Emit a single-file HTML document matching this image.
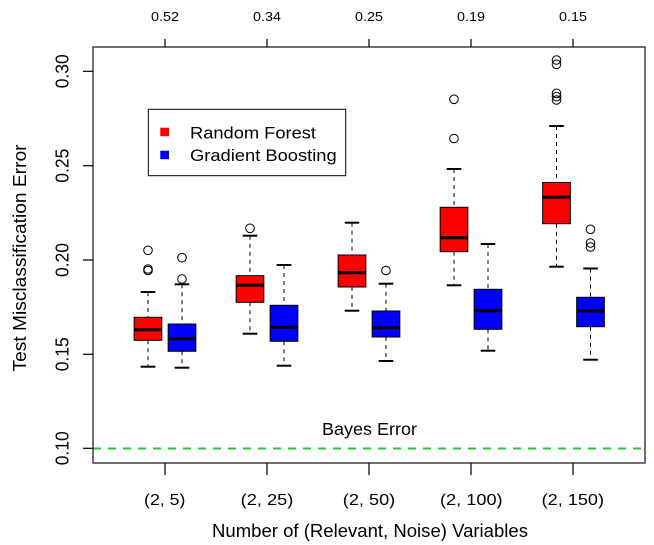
<!DOCTYPE html>
<html>
<head>
<meta charset="utf-8">
<style>
  html, body { margin: 0; padding: 0; background: #ffffff; }
  svg { display: block; }
  text { font-family: "Liberation Sans", Arial, Helvetica, sans-serif; fill: #000; }
</style>
</head>
<body>
<svg width="654" height="545" viewBox="0 0 654 545" xmlns="http://www.w3.org/2000/svg">
  <rect x="0" y="0" width="654" height="545" fill="#ffffff"/>

  <!-- Bayes error line -->
  <line x1="93" y1="448.5" x2="645" y2="448.5" stroke="#22cc22" stroke-width="2" stroke-dasharray="8 7"/>
  <text x="369.5" y="435" font-size="17.5" text-anchor="middle" textLength="95" lengthAdjust="spacingAndGlyphs">Bayes Error</text>

  <!-- Boxes -->
  <g stroke="#000" fill="none">
    <!-- Group 1 red -->
    <g>
      <line x1="148" y1="292" x2="148" y2="317.3" stroke-width="1" stroke-dasharray="4 4"/>
      <line x1="148" y1="340.3" x2="148" y2="366.7" stroke-width="1" stroke-dasharray="4 4"/>
      <line x1="140.7" y1="292" x2="155.3" y2="292" stroke-width="2"/>
      <line x1="140.7" y1="366.7" x2="155.3" y2="366.7" stroke-width="2"/>
      <rect x="134.15" y="317.3" width="27.7" height="23" fill="#ff0000" stroke-width="1"/>
      <line x1="134.15" y1="329.7" x2="161.85" y2="329.7" stroke-width="3"/>
      <circle cx="148" cy="250.3" r="4.3" stroke-width="1"/>
      <circle cx="148" cy="269" r="4.3" stroke-width="1"/>
      <circle cx="148" cy="270.5" r="4.3" stroke-width="1"/>
    </g>
    <!-- Group 1 blue -->
    <g>
      <line x1="182" y1="284.3" x2="182" y2="324" stroke-width="1" stroke-dasharray="4 4"/>
      <line x1="182" y1="351.3" x2="182" y2="367.7" stroke-width="1" stroke-dasharray="4 4"/>
      <line x1="174.7" y1="284.3" x2="189.3" y2="284.3" stroke-width="2"/>
      <line x1="174.7" y1="367.7" x2="189.3" y2="367.7" stroke-width="2"/>
      <rect x="168.15" y="324" width="27.7" height="27.3" fill="#0000ff" stroke-width="1"/>
      <line x1="168.15" y1="338.7" x2="195.85" y2="338.7" stroke-width="3"/>
      <circle cx="182" cy="257.7" r="4.3" stroke-width="1"/>
      <circle cx="182" cy="279" r="4.3" stroke-width="1"/>
    </g>
    <!-- Group 2 red -->
    <g>
      <line x1="250" y1="235.7" x2="250" y2="275.7" stroke-width="1" stroke-dasharray="4 4"/>
      <line x1="250" y1="302.3" x2="250" y2="333.7" stroke-width="1" stroke-dasharray="4 4"/>
      <line x1="242.7" y1="235.7" x2="257.3" y2="235.7" stroke-width="2"/>
      <line x1="242.7" y1="333.7" x2="257.3" y2="333.7" stroke-width="2"/>
      <rect x="236.15" y="275.7" width="27.7" height="26.6" fill="#ff0000" stroke-width="1"/>
      <line x1="236.15" y1="285.3" x2="263.85" y2="285.3" stroke-width="3"/>
      <circle cx="250" cy="228.3" r="4.3" stroke-width="1"/>
    </g>
    <!-- Group 2 blue -->
    <g>
      <line x1="284" y1="265" x2="284" y2="305.3" stroke-width="1" stroke-dasharray="4 4"/>
      <line x1="284" y1="341.3" x2="284" y2="365.7" stroke-width="1" stroke-dasharray="4 4"/>
      <line x1="276.7" y1="265" x2="291.3" y2="265" stroke-width="2"/>
      <line x1="276.7" y1="365.7" x2="291.3" y2="365.7" stroke-width="2"/>
      <rect x="270.15" y="305.3" width="27.7" height="36" fill="#0000ff" stroke-width="1"/>
      <line x1="270.15" y1="327.3" x2="297.85" y2="327.3" stroke-width="3"/>
    </g>
    <!-- Group 3 red -->
    <g>
      <line x1="352" y1="222.7" x2="352" y2="255" stroke-width="1" stroke-dasharray="4 4"/>
      <line x1="352" y1="287" x2="352" y2="310.7" stroke-width="1" stroke-dasharray="4 4"/>
      <line x1="344.7" y1="222.7" x2="359.3" y2="222.7" stroke-width="2"/>
      <line x1="344.7" y1="310.7" x2="359.3" y2="310.7" stroke-width="2"/>
      <rect x="338.15" y="255" width="27.7" height="32" fill="#ff0000" stroke-width="1"/>
      <line x1="338.15" y1="272.7" x2="365.85" y2="272.7" stroke-width="3"/>
    </g>
    <!-- Group 3 blue -->
    <g>
      <line x1="386" y1="283.7" x2="386" y2="311" stroke-width="1" stroke-dasharray="4 4"/>
      <line x1="386" y1="337" x2="386" y2="361" stroke-width="1" stroke-dasharray="4 4"/>
      <line x1="378.7" y1="283.7" x2="393.3" y2="283.7" stroke-width="2"/>
      <line x1="378.7" y1="361" x2="393.3" y2="361" stroke-width="2"/>
      <rect x="372.15" y="311" width="27.7" height="26" fill="#0000ff" stroke-width="1"/>
      <line x1="372.15" y1="327.7" x2="399.85" y2="327.7" stroke-width="3"/>
      <circle cx="386" cy="270.5" r="4.3" stroke-width="1"/>
    </g>
    <!-- Group 4 red -->
    <g>
      <line x1="454" y1="169" x2="454" y2="207.3" stroke-width="1" stroke-dasharray="4 4"/>
      <line x1="454" y1="251.7" x2="454" y2="285.3" stroke-width="1" stroke-dasharray="4 4"/>
      <line x1="446.7" y1="169" x2="461.3" y2="169" stroke-width="2"/>
      <line x1="446.7" y1="285.3" x2="461.3" y2="285.3" stroke-width="2"/>
      <rect x="440.15" y="207.3" width="27.7" height="44.4" fill="#ff0000" stroke-width="1"/>
      <line x1="440.15" y1="237.7" x2="467.85" y2="237.7" stroke-width="3"/>
      <circle cx="454" cy="99.3" r="4.3" stroke-width="1"/>
      <circle cx="454" cy="138.5" r="4.3" stroke-width="1"/>
    </g>
    <!-- Group 4 blue -->
    <g>
      <line x1="488" y1="244" x2="488" y2="289.3" stroke-width="1" stroke-dasharray="4 4"/>
      <line x1="488" y1="329.3" x2="488" y2="350.7" stroke-width="1" stroke-dasharray="4 4"/>
      <line x1="480.7" y1="244" x2="495.3" y2="244" stroke-width="2"/>
      <line x1="480.7" y1="350.7" x2="495.3" y2="350.7" stroke-width="2"/>
      <rect x="474.15" y="289.3" width="27.7" height="40" fill="#0000ff" stroke-width="1"/>
      <line x1="474.15" y1="310.7" x2="501.85" y2="310.7" stroke-width="3"/>
    </g>
    <!-- Group 5 red -->
    <g>
      <line x1="556.5" y1="126" x2="556.5" y2="182.5" stroke-width="1" stroke-dasharray="4 4"/>
      <line x1="556.5" y1="223.7" x2="556.5" y2="266.7" stroke-width="1" stroke-dasharray="4 4"/>
      <line x1="549.2" y1="126" x2="563.8" y2="126" stroke-width="2"/>
      <line x1="549.2" y1="266.7" x2="563.8" y2="266.7" stroke-width="2"/>
      <rect x="542.65" y="182.5" width="27.7" height="41.2" fill="#ff0000" stroke-width="1"/>
      <line x1="542.65" y1="197.3" x2="570.35" y2="197.3" stroke-width="3"/>
      <circle cx="556.5" cy="60" r="4.3" stroke-width="1"/>
      <circle cx="556.5" cy="64.3" r="4.3" stroke-width="1"/>
      <circle cx="556.5" cy="93.3" r="4.3" stroke-width="1"/>
      <circle cx="556.5" cy="96.7" r="4.3" stroke-width="1"/>
      <circle cx="556.5" cy="100" r="4.3" stroke-width="1"/>
    </g>
    <!-- Group 5 blue -->
    <g>
      <line x1="590.5" y1="268.5" x2="590.5" y2="297.3" stroke-width="1" stroke-dasharray="4 4"/>
      <line x1="590.5" y1="326.7" x2="590.5" y2="359.7" stroke-width="1" stroke-dasharray="4 4"/>
      <line x1="583.2" y1="268.5" x2="597.8" y2="268.5" stroke-width="2"/>
      <line x1="583.2" y1="359.7" x2="597.8" y2="359.7" stroke-width="2"/>
      <rect x="576.65" y="297.3" width="27.7" height="29.4" fill="#0000ff" stroke-width="1"/>
      <line x1="576.65" y1="311" x2="604.35" y2="311" stroke-width="3"/>
      <circle cx="590.5" cy="229.3" r="4.3" stroke-width="1"/>
      <circle cx="590.5" cy="243" r="4.3" stroke-width="1"/>
      <circle cx="590.5" cy="247" r="4.3" stroke-width="1"/>
    </g>
  </g>

  <!-- Plot border -->
  <rect x="93" y="47" width="552" height="416" fill="none" stroke="#333" stroke-width="1.4"/>

  <!-- Y axis ticks -->
  <g stroke="#000" stroke-width="1.2">
    <line x1="83" y1="448.3" x2="93" y2="448.3"/>
    <line x1="83" y1="354.3" x2="93" y2="354.3"/>
    <line x1="83" y1="260" x2="93" y2="260"/>
    <line x1="83" y1="165.7" x2="93" y2="165.7"/>
    <line x1="83" y1="71.3" x2="93" y2="71.3"/>
  </g>
  <g font-size="18" text-anchor="middle">
    <text transform="translate(68.3,448.3) rotate(-90)" textLength="34" lengthAdjust="spacingAndGlyphs">0.10</text>
    <text transform="translate(68.3,354.3) rotate(-90)" textLength="34" lengthAdjust="spacingAndGlyphs">0.15</text>
    <text transform="translate(68.3,260) rotate(-90)" textLength="34" lengthAdjust="spacingAndGlyphs">0.20</text>
    <text transform="translate(68.3,165.7) rotate(-90)" textLength="34" lengthAdjust="spacingAndGlyphs">0.25</text>
    <text transform="translate(68.3,71.3) rotate(-90)" textLength="34" lengthAdjust="spacingAndGlyphs">0.30</text>
  </g>
  <text transform="translate(26,258) rotate(-90)" font-size="18" text-anchor="middle" textLength="227" lengthAdjust="spacingAndGlyphs">Test Misclassification Error</text>

  <!-- Bottom axis ticks -->
  <g stroke="#000" stroke-width="1.2">
    <line x1="165" y1="463" x2="165" y2="475"/>
    <line x1="267" y1="463" x2="267" y2="475"/>
    <line x1="369" y1="463" x2="369" y2="475"/>
    <line x1="471" y1="463" x2="471" y2="475"/>
    <line x1="573" y1="463" x2="573" y2="475"/>
  </g>
  <g font-size="16" text-anchor="middle">
    <text x="164.7" y="505" textLength="41.3" lengthAdjust="spacingAndGlyphs">(2, 5)</text>
    <text x="267" y="505" textLength="52.6" lengthAdjust="spacingAndGlyphs">(2, 25)</text>
    <text x="369" y="505" textLength="52.4" lengthAdjust="spacingAndGlyphs">(2, 50)</text>
    <text x="471.3" y="505" textLength="62.6" lengthAdjust="spacingAndGlyphs">(2, 100)</text>
    <text x="572.8" y="505" textLength="62.4" lengthAdjust="spacingAndGlyphs">(2, 150)</text>
  </g>
  <text x="370" y="537" font-size="18" text-anchor="middle" textLength="316" lengthAdjust="spacingAndGlyphs">Number of (Relevant, Noise) Variables</text>

  <!-- Top axis ticks -->
  <g stroke="#000" stroke-width="1.2">
    <line x1="165" y1="39" x2="165" y2="47"/>
    <line x1="267" y1="39" x2="267" y2="47"/>
    <line x1="369" y1="39" x2="369" y2="47"/>
    <line x1="471" y1="39" x2="471" y2="47"/>
    <line x1="573" y1="39" x2="573" y2="47"/>
  </g>
  <g font-size="13" text-anchor="middle">
    <text x="165" y="21" textLength="28" lengthAdjust="spacingAndGlyphs">0.52</text>
    <text x="267" y="21" textLength="28" lengthAdjust="spacingAndGlyphs">0.34</text>
    <text x="369" y="21" textLength="28" lengthAdjust="spacingAndGlyphs">0.25</text>
    <text x="471" y="21" textLength="28" lengthAdjust="spacingAndGlyphs">0.19</text>
    <text x="573" y="21" textLength="28" lengthAdjust="spacingAndGlyphs">0.15</text>
  </g>

  <!-- Legend -->
  <rect x="148.3" y="109.3" width="197.4" height="66.4" fill="#ffffff" stroke="#000" stroke-width="1"/>
  <rect x="160.3" y="127.7" width="8.7" height="8.5" fill="#ff0000"/>
  <rect x="160.3" y="150.7" width="8.7" height="8.5" fill="#0000ff"/>
  <text x="190" y="138.3" font-size="17" textLength="126" lengthAdjust="spacingAndGlyphs">Random Forest</text>
  <text x="190" y="161" font-size="17" textLength="146.7" lengthAdjust="spacingAndGlyphs">Gradient Boosting</text>
</svg>
</body>
</html>
